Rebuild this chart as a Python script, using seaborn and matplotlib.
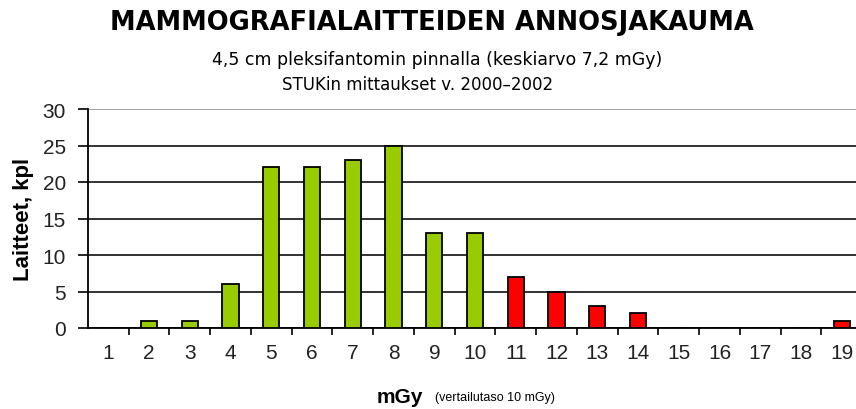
import matplotlib
matplotlib.use("Agg")
import matplotlib.pyplot as plt
import seaborn as sns
import numpy as np
import pandas as pd

categories = [str(i) for i in range(1, 20)]
counts = [0, 1, 1, 6, 22, 22, 23, 25, 13, 13, 7, 5, 3, 2, 0, 0, 0, 0, 1]
bar_colors = ["#99cc00"] * 10 + ["#ff0000"] * 9
y_ticks = [0, 5, 10, 15, 20, 25, 30]

title = "MAMMOGRAFIALAITTEIDEN ANNOSJAKAUMA"
subtitle1 = "4,5 cm pleksifantomin pinnalla (keskiarvo 7,2 mGy)"
subtitle2 = "STUKin mittaukset v. 2000–2002"
ylabel = "Laitteet, kpl"
xlabel = "mGy"
xnote = "(vertailutaso 10 mGy)"

sns.set_theme(style="white")
plt.rcParams["font.family"] = ["Liberation Sans", "DejaVu Sans"]
plt.rcParams["text.color"] = "black"

df = pd.DataFrame({"cat": categories, "n": counts})

fig = plt.figure(figsize=(8.56, 4.10), dpi=100)
ax = fig.add_axes([88 / 856, (410 - 329) / 410, 1 - 88 / 856, (329 - 110) / 410])

sns.barplot(data=df, x="cat", y="n", hue="cat", palette=bar_colors, legend=False,
            saturation=1, width=0.4, edgecolor="black", linewidth=1.3, ax=ax, zorder=3)

ax.set_ylim(0, 30)
ax.set_xlim(-0.5, 18.35)
ax.set_yticks(y_ticks)
ax.set_yticklabels([str(v) for v in y_ticks], fontsize=15, color="#222222")
ax.tick_params(axis="y", direction="out", length=7, width=1.2, color="black", pad=9, left=True)
ax.set_xticks(range(len(categories)))
ax.set_xticklabels(categories, fontsize=15, color="#222222")
ax.tick_params(axis="x", which="major", length=0, pad=11)
ax.set_xticks(np.arange(0.5, len(categories) - 0.5, 1), minor=True)
ax.tick_params(axis="x", which="minor", direction="out", length=5, width=1.2, color="black", bottom=True)

ax.grid(axis="y", color="#222222", linewidth=1.3, zorder=0)
ax.set_axisbelow(True)
gl = ax.get_ygridlines()
gl[-1].set_color("#999999")

for s in ["top", "right"]:
    ax.spines[s].set_visible(False)
for s in ["left", "bottom"]:
    ax.spines[s].set_color("black")
    ax.spines[s].set_linewidth(1.3)

ax.set_xlabel("")
ax.set_ylabel(ylabel, fontsize=16, fontweight="bold", labelpad=6, color="black")

fig.text(0.505, 0.945, title, ha="center", va="center", fontsize=18.5, fontweight="bold",
         family=["DejaVu Sans"], color="black")
fig.text(0.511, 0.853, subtitle1, ha="center", va="center", fontsize=12.5, family=["DejaVu Sans"])
fig.text(0.488, 0.793, subtitle2, ha="center", va="center", fontsize=12, family=["DejaVu Sans"])
fig.text(0.467, 0.03, xlabel, ha="center", va="center", fontsize=15, fontweight="bold")
fig.text(0.508, 0.03, xnote, ha="left", va="center", fontsize=9)

fig.savefig("out.png", dpi=100)
